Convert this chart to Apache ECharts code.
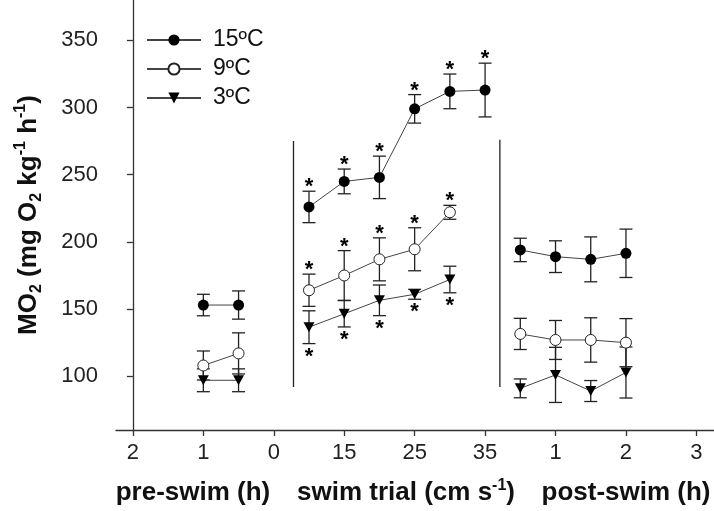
<!DOCTYPE html>
<html>
<head>
<meta charset="utf-8">
<script src="https://cdn.jsdelivr.net/npm/echarts@6/dist/echarts.min.js"></script>
<style>
html,body{margin:0;padding:0;background:#fff;}
#chart{width:714px;height:511px;}
</style>
</head>
<body>
<div id="chart"></div>
<script>
// ---- data ----
const xTickLabels = ['2', '1', '0', '15', '25', '35', '1', '2', '3'];
const yTicks = [100, 150, 200, 250, 300, 350];

const preHours = [1, 0.5];
const swimSpeeds = [10, 15, 20, 25, 30, 35];
const postHours = [0.5, 1, 1.5, 2];

// 15 ºC
const pre15 = [153, 153];
const pre15se = [8, 10.5];
const swim15 = [226, 245, 248, 299, 312, 313];
const swim15se = [11.7, 9.2, 15.8, 10.6, 12.9, 20];
const post15 = [194, 189, 187, 191.5];
const post15se = [8.7, 11.8, 16.7, 18];

// 9 ºC
const pre9 = [108, 117];
const pre9se = [10.8, 15.3];
const swim9 = [164, 175, 187, 194.5, 222];
const swim9se = [12, 18.5, 16, 16, 5.2];
const post9 = [131.5, 127, 127, 125];
const post9se = [11.6, 14.5, 16.5, 17.9];

// 3 ºC
const pre3 = [97, 97];
const pre3se = [8.5, 8.5];
const swim3 = [136.5, 146.5, 156.5, 161, 172];
const swim3se = [12.2, 9.8, 11.4, 3.7, 9.9];
const post3 = [91, 101, 89, 102.8];
const post3se = [7, 20.5, 7.8, 19];

// significance markers during swim trial: 1 = asterisk above, -1 = below
const swim15sig = [1, 1, 1, 1, 1, 1];
const swim9sig = [1, 1, 1, 1, 1];
const swim3sig = [-1, -1, -1, -1, -1];

// phase separators (x in axis units, y range in data units)
const sepX = [2.28, 5.21];
const sepTop = [275, 276];
const sepBottom = [92, 92];

// ---- mapping of phase values onto the shared x axis ----
const preX = h => 2 - h;
const swimX = s => 3 + (s - 15) / 10;
const postX = h => 5 + h;

function lineData(pre, swim, post) {
  const d = [];
  pre.forEach((v, i) => d.push([preX(preHours[i]), v]));
  d.push(['-', '-']);
  swim.forEach((v, i) => d.push([swimX(swimSpeeds[i]), v]));
  d.push(['-', '-']);
  post.forEach((v, i) => d.push([postX(postHours[i]), v]));
  return d;
}
function errData(pre, preSe, swim, swimSe, swimSig, post, postSe) {
  const d = [];
  pre.forEach((v, i) => d.push([preX(preHours[i]), v, preSe[i], 0]));
  swim.forEach((v, i) => d.push([swimX(swimSpeeds[i]), v, swimSe[i], swimSig[i]]));
  post.forEach((v, i) => d.push([postX(postHours[i]), v, postSe[i], 0]));
  return d;
}

const FONT = "'Liberation Sans', Arial, sans-serif";
const AX = '#333';

function renderErr(params, api) {
  const x = api.value(0), m = api.value(1), se = api.value(2), sig = api.value(3);
  const t = api.coord([x, m + se]);
  const b = api.coord([x, m - se]);
  const cw = 6.5;
  const st = { stroke: '#222', lineWidth: 1.3 };
  const ch = [
    { type: 'line', shape: { x1: t[0], y1: t[1], x2: b[0], y2: b[1] }, style: st },
    { type: 'line', shape: { x1: t[0] - cw, y1: t[1], x2: t[0] + cw, y2: t[1] }, style: st },
    { type: 'line', shape: { x1: b[0] - cw, y1: b[1], x2: b[0] + cw, y2: b[1] }, style: st }
  ];
  const ast = { text: '*', fontSize: 22, fontWeight: 'bold', fontFamily: FONT, fill: '#000', align: 'center', verticalAlign: 'middle' };
  if (sig === 1) ch.push({ type: 'text', x: t[0], y: t[1] - 4, style: ast });
  if (sig === -1) ch.push({ type: 'text', x: b[0], y: b[1] + 13, style: ast });
  return { type: 'group', children: ch };
}

const lineStyle = { color: '#444', width: 1 };
const TITLE = { fontSize: 26, fontWeight: 'bold', fontFamily: FONT, fill: '#111', align: 'center', verticalAlign: 'middle' };

const option = {
  animation: false,
  grid: { left: 116, right: 0, top: 0, bottom: 81, containLabel: false },
  xAxis: {
    type: 'value', min: -0.24, max: 8.25,
    axisLine: { show: true, lineStyle: { color: AX, width: 1.3 } },
    axisTick: { show: true, length: 6, lineStyle: { color: AX, width: 1.3 }, customValues: [0, 1, 2, 3, 4, 5, 6, 7, 8] },
    axisLabel: { color: '#222', fontSize: 22, fontFamily: FONT, margin: 12,
      customValues: [0, 1, 2, 3, 4, 5, 6, 7, 8],
      formatter: v => xTickLabels[Math.round(v)] },
    splitLine: { show: false }
  },
  yAxis: {
    type: 'value', min: 60, max: 380,
    axisLine: { show: true, lineStyle: { color: AX, width: 1.3 } },
    axisTick: { show: true, length: 6, lineStyle: { color: AX, width: 1.3 }, customValues: yTicks },
    axisLabel: { color: '#222', fontSize: 22, fontFamily: FONT, margin: 18, customValues: yTicks },
    splitLine: { show: false },
    name: 'MO{sub|2} (mg O{sub|2} kg{sup|-1} h{sup|-1})',
    nameLocation: 'middle', nameRotate: 90, nameGap: 71,
    nameTextStyle: {
      fontSize: 26, fontWeight: 'bold', fontFamily: FONT, color: '#111', lineHeight: 32,
      rich: {
        sub: { fontSize: 16, fontWeight: 'bold', fontFamily: FONT, color: '#111', verticalAlign: 'bottom', lineHeight: 32 },
        sup: { fontSize: 16, fontWeight: 'bold', fontFamily: FONT, color: '#111', verticalAlign: 'top', lineHeight: 32 }
      }
    }
  },
  legend: {
    orient: 'vertical', left: 141, top: 23,
    itemWidth: 54, itemHeight: 14, itemGap: 5,
    data: ['15ºC', '9ºC', '3ºC'],
    textStyle: { fontSize: 23, fontFamily: FONT, color: '#111', lineHeight: 24, padding: [0, 0, 0, 7] }
  },
  graphic: [
    { type: 'text', x: 193, y: 493, style: Object.assign({ text: 'pre-swim (h)' }, TITLE) },
    { type: 'text', x: 406, y: 493, style: Object.assign({ text: 'swim trial (cm s{sup|-1})',
        rich: { sup: { fontSize: 16, fontWeight: 'bold', fontFamily: FONT, fill: '#111', verticalAlign: 'top', lineHeight: 30 } } }, TITLE) },
    { type: 'text', x: 626, y: 493, style: Object.assign({ text: 'post-swim (h)' }, TITLE) }
  ],
  series: [
    { type: 'custom', name: 'err15', renderItem: renderErr, z: 1, silent: true,
      data: errData(pre15, pre15se, swim15, swim15se, swim15sig, post15, post15se) },
    { type: 'custom', name: 'err9', renderItem: renderErr, z: 1, silent: true,
      data: errData(pre9, pre9se, swim9, swim9se, swim9sig, post9, post9se) },
    { type: 'custom', name: 'err3', renderItem: renderErr, z: 1, silent: true,
      data: errData(pre3, pre3se, swim3, swim3se, swim3sig, post3, post3se) },
    { type: 'line', name: '15ºC', z: 3, connectNulls: false,
      symbol: 'circle', symbolSize: 11, showAllSymbol: true,
      lineStyle: lineStyle, itemStyle: { color: '#000' },
      data: lineData(pre15, swim15, post15) },
    { type: 'line', name: '9ºC', z: 3, connectNulls: false,
      symbol: 'circle', symbolSize: 11, showAllSymbol: true,
      lineStyle: lineStyle, itemStyle: { color: '#fff', borderColor: '#222', borderWidth: 1 },
      data: lineData(pre9, swim9, post9) },
    { type: 'line', name: '3ºC', z: 3, connectNulls: false,
      symbol: 'triangle', symbolRotate: 180, symbolSize: [11, 10], showAllSymbol: true,
      lineStyle: lineStyle, itemStyle: { color: '#000' },
      data: lineData(pre3, swim3, post3) },
    { type: 'line', name: 'sep1', z: 2, symbol: 'none', silent: true,
      lineStyle: { color: '#222', width: 1.3 },
      data: [[sepX[0], sepTop[0]], [sepX[0], sepBottom[0]]] },
    { type: 'line', name: 'sep2', z: 2, symbol: 'none', silent: true,
      lineStyle: { color: '#222', width: 1.3 },
      data: [[sepX[1], sepTop[1]], [sepX[1], sepBottom[1]]] }
  ]
};

const chart = echarts.init(document.getElementById('chart'), null, { renderer: 'canvas' });
chart.setOption(option);
</script>
</body>
</html>
